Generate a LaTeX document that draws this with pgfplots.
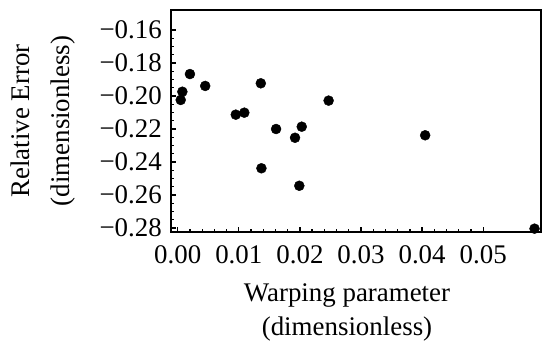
\documentclass[border=0pt]{standalone}
\usepackage{fontspec}
\setmainfont{Liberation Serif}
\usepackage{pgfplots}
\pgfplotsset{compat=1.18}
\begin{document}
\begin{tikzpicture}[x=1bp,y=1bp]
\begin{axis}[
  at={(0,0)}, anchor=south west,
  width=370bp, height=222bp, scale only axis,
  xmin=-0.0011, xmax=0.05946, ymin=-0.28242, ymax=-0.14788,
  scaled x ticks=false, scaled y ticks=false,
  axis line style={line width=2.8bp},
  tick style={black, line width=1.3bp},
  major tick length=5bp, minor tick length=3bp,
  tick align=inside,
  xtick={0,0.01,0.02,0.03,0.04,0.05},
  xticklabels={0.00,0.01,0.02,0.03,0.04,0.05},
  ytick={-0.28,-0.26,-0.24,-0.22,-0.2,-0.18,-0.16},
  yticklabels={{−0.28},{−0.26},{−0.24},{−0.22},{−0.20},{−0.18},{−0.16}},
  minor x tick num=4, minor y tick num=3,
  xtick pos=left, ytick pos=left,
  ticklabel style={font=\fontsize{27}{30}\selectfont, inner sep=0pt},
  xticklabel style={yshift=-13bp},
  yticklabel style={xshift=-9bp},
  xlabel={Warping parameter\\(dimensionless)},
  xlabel style={align=center, font=\fontsize{27}{35}\selectfont, at={(axis description cs:0.4757,-0.3626)}, anchor=center},
  ylabel={Relative Error\\(dimensionless)},
  ylabel style={align=center, font=\fontsize{27}{40}\selectfont, at={(axis description cs:-0.346,0.5)}, anchor=center},
  clip=false,
]
\addplot[only marks, mark=*, mark size=5bp, black] coordinates {
(0.00049,-0.2024)
(0.00076,-0.1974)
(0.0020,-0.1867)
(0.0045,-0.1939)
(0.0095,-0.2113)
(0.0109,-0.2101)
(0.0136,-0.1923)
(0.0137,-0.2438)
(0.0161,-0.2200)
(0.0192,-0.2253)
(0.0203,-0.2186)
(0.0199,-0.2544)
(0.0247,-0.2028)
(0.0405,-0.2238)
(0.0584,-0.2804)
};
\end{axis}
\pgfresetboundingbox
\path (-171,-128) rectangle (372,232);
\end{tikzpicture}
\end{document}
